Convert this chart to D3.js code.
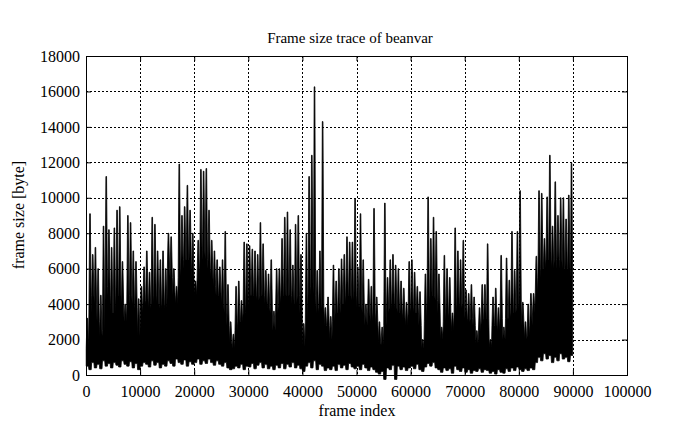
<!DOCTYPE html>
<html><head><meta charset="utf-8">
<script src="https://cdn.jsdelivr.net/npm/d3@7"></script>
<style>
html,body{margin:0;padding:0;background:#fff;}
svg{display:block;}
text{font-family:"Liberation Serif","Times New Roman",serif;fill:#000;}
</style></head>
<body><svg id="c" width="699" height="429"></svg>
<script>
// ---- data (one entry per 500-frame bin) ----
const binSize = 500;
const xTicks = [0,10000,20000,30000,40000,50000,60000,70000,80000,90000,100000];
const yTicks = [0,2000,4000,6000,8000,10000,12000,14000,16000,18000];
// highest frame size within each bin
const peak = [
3200,9100,6800,7200,6000,4500,8400,11200,8200,7200,
8300,9300,9500,6400,4000,9000,8600,7000,6400,4300,
5000,6100,7000,5800,8900,8500,7000,6500,7000,6000,
8000,7800,6000,5000,11900,9000,9500,10700,9300,8000,
5300,7600,11600,11500,11650,9300,7600,7000,6500,6100,
6500,8100,5100,3000,2300,5000,5300,4200,7500,7400,
7300,7100,7000,6800,8600,7400,5900,5700,6500,3600,
6000,6000,7700,8900,9200,8200,6200,8500,9000,6800,
2900,8000,11200,12400,16260,5900,7000,14300,3800,4400,
3300,6200,5300,6000,6550,6800,7800,7500,7500,9950,
6100,9100,6500,4000,5400,5000,9400,4400,3000,2700,
9700,5500,6500,6800,6200,6000,5300,4900,4100,6400,
6500,5800,5000,4700,2000,5700,10050,7700,8900,8100,
5700,2700,6750,6000,5500,3500,8300,7000,6500,7600,
4800,4600,5100,4400,2500,3800,5100,5100,7400,2000,
4400,4900,3800,6750,2700,6600,5350,8100,5900,8100,
10400,4100,3000,4000,4600,4600,6700,10400,10250,7700,
10050,12400,8400,10900,9000,10000,10000,8800,10150,11950];
// level up to which the trace is solid between spikes
const trough = [
1500,3500,4500,4000,3000,2200,2500,5000,4500,3500,
3500,4500,4500,4000,3000,4000,4500,4000,3800,2200,
3500,4000,4200,3800,4000,4500,4000,3800,4000,3800,
6000,5500,4500,4000,5500,6000,6500,6500,6500,5500,
4500,5500,6500,7000,6500,6000,5500,5000,4500,4500,
4000,3500,2800,1800,1500,2500,3000,3000,3500,4000,
4500,4500,4500,4200,4500,4500,4000,3800,3500,2500,
3500,4000,4500,4500,4500,4500,4000,4000,4500,3500,
1600,3000,4500,5000,4500,3500,3800,4000,2800,2800,
2000,3000,3500,3500,4000,4000,4500,4500,4200,4500,
3800,4000,3500,2800,3500,3000,3500,2800,1800,1700,
2800,3500,3800,4000,3800,3500,3500,3200,2800,3500,
3800,3500,3500,2800,1500,3000,4000,4500,4500,4200,
3500,2000,3000,3500,3200,2500,3500,4000,3800,4000,
3200,3000,3200,2800,1800,2500,3000,3200,3200,1600,
2800,2800,2500,3200,2000,3200,3200,3500,3500,3800,
4000,2800,2000,2200,2800,3500,4500,5500,6000,6000,
6500,6500,6000,6500,6000,6500,6000,6000,6000,5500];
// lowest frame size within each bin
const floor = [
500,300,700,400,600,350,800,500,650,400,
700,550,450,800,600,500,750,400,650,300,
500,700,600,450,800,550,700,400,600,500,
800,650,500,900,700,600,850,500,750,600,
700,900,600,800,650,900,700,550,800,600,
500,700,400,300,350,500,400,600,300,500,
450,650,350,550,700,400,600,350,500,300,
550,400,650,350,600,450,700,400,550,350,
200,500,700,400,800,300,600,500,250,400,
300,500,250,600,400,550,300,650,450,350,
500,300,600,400,250,450,300,150,50,200,
-250,400,300,550,-250,500,300,450,250,400,
500,350,600,300,200,450,650,500,700,400,
300,150,400,250,350,100,500,300,200,400,
150,300,100,250,200,350,150,300,250,100,
200,50,300,150,100,350,200,400,250,450,
300,200,350,250,400,300,700,1000,800,1200,
900,1100,700,1000,800,1200,900,1000,750,1100];

// ---- layout ----
const L = 86, R = 627, T = 56, B = 375;
const svg = d3.select("#c");
const x = d3.scaleLinear().domain([0,100000]).range([L,R]);
const y = d3.scaleLinear().domain([0,18000]).range([B,T]);

// grid
const g = svg.append("g");
g.selectAll("line.vg").data(xTicks.slice(1,-1)).join("line")
  .attr("x1",d=>Math.round(x(d))+0.5).attr("x2",d=>Math.round(x(d))+0.5)
  .attr("y1",T).attr("y2",B)
  .attr("stroke","#000").attr("stroke-width",1).attr("stroke-dasharray","2,2");
g.selectAll("line.hg").data(yTicks.slice(1,-1)).join("line")
  .attr("y1",d=>Math.round(y(d))+0.5).attr("y2",d=>Math.round(y(d))+0.5)
  .attr("x1",L).attr("x2",R)
  .attr("stroke","#000").attr("stroke-width",1).attr("stroke-dasharray","2,2");

// trace
const pts = [];
peak.forEach((p,i)=>{
  const f0 = i*binSize;
  pts.push({f:f0+40,  top:trough[i], bot:floor[i]});
  pts.push({f:f0+180, top:p,         bot:floor[i]});
  pts.push({f:f0+300, top:p,         bot:floor[i]});
  pts.push({f:f0+460, top:trough[i], bot:floor[i]});
});
const area = d3.area().x(d=>x(d.f)).y0(d=>y(d.bot)).y1(d=>y(d.top));
svg.append("path").attr("d",area(pts)).attr("fill","#000")
  .attr("stroke","#000").attr("stroke-width",0.8).attr("stroke-linejoin","miter");

// axes (inward ticks, mirrored)
const ax = svg.append("g").attr("transform",`translate(0,${B})`)
  .call(d3.axisBottom(x).tickValues(xTicks).tickFormat(d3.format("d")).tickSize(-5).tickPadding(11));
const ay = svg.append("g").attr("transform",`translate(${L},0)`)
  .call(d3.axisLeft(y).tickValues(yTicks).tickFormat(d3.format("d")).tickSize(-5).tickPadding(6));
const at = svg.append("g").attr("transform",`translate(0,${T})`)
  .call(d3.axisTop(x).tickValues(xTicks).tickFormat("").tickSize(-5));
const ar = svg.append("g").attr("transform",`translate(${R},0)`)
  .call(d3.axisRight(y).tickValues(yTicks).tickFormat("").tickSize(-5));
[ax,ay,at,ar].forEach(a=>{
  a.selectAll(".domain").remove();
  a.selectAll("line").attr("stroke","#000");
  a.selectAll("text").attr("font-family",'"Liberation Serif",serif').attr("font-size",16).attr("fill","#000");
});
svg.append("rect").attr("x",L+0.5).attr("y",T+0.5).attr("width",R-L).attr("height",B-T)
  .attr("fill","none").attr("stroke","#000").attr("stroke-width",1);

// titles
svg.append("text").attr("x",350).attr("y",43).attr("text-anchor","middle")
  .attr("font-size",15).text("Frame size trace of beanvar");
svg.append("text").attr("x",357).attr("y",416).attr("text-anchor","middle")
  .attr("font-size",16).text("frame index");
svg.append("text").attr("transform","translate(24,215) rotate(-90)").attr("text-anchor","middle")
  .attr("font-size",16).text("frame size [byte]");
</script></body></html>
